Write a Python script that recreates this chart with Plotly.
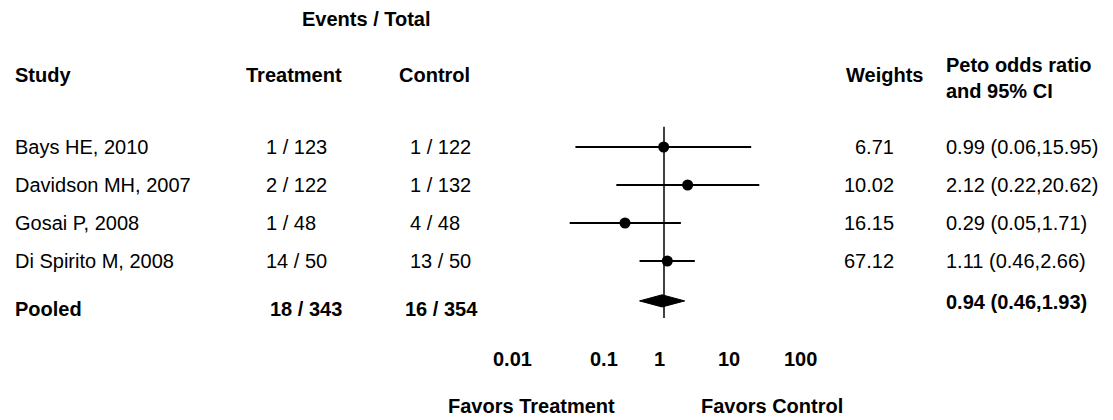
import math
import plotly.graph_objects as go

# ---- data -------------------------------------------------------------
studies = ["Bays HE, 2010", "Davidson MH, 2007", "Gosai P, 2008", "Di Spirito M, 2008"]
treat_events = [1, 2, 1, 14]
treat_total = [123, 122, 48, 50]
ctrl_events = [1, 1, 4, 13]
ctrl_total = [122, 132, 48, 50]
weights = [6.71, 10.02, 16.15, 67.12]
odds_ratio = [0.99, 2.12, 0.29, 1.11]
ci_low = [0.06, 0.22, 0.05, 0.46]
ci_high = [15.95, 20.62, 1.71, 2.66]

pooled_label = "Pooled"
pooled_treat = [18, 343]
pooled_ctrl = [16, 354]
pooled_or = 0.94
pooled_low = 0.46
pooled_high = 1.93

tick_values = [0.01, 0.1, 1, 10, 100]
tick_labels = ["0.01", "0.1", "1", "10", "100"]

# ---- layout constants -------------------------------------------------
W, H = 1113, 420
FONT = "Liberation Sans, Arial, sans-serif"
FS = 20
INK = "#000000"

NULL_PX = 664        # horizontal pixel of OR = 1
PX_PER_DECADE = 72.5
ROW0_PX = 147        # vertical pixel of the first study row
ROW_STEP = 38

x_range = [-NULL_PX / PX_PER_DECADE, (W - NULL_PX) / PX_PER_DECADE]
y_range = [(H - ROW0_PX) / ROW_STEP, -ROW0_PX / ROW_STEP]

pooled_row_text = 4.26
pooled_row_mark = 4.05
diamond_half = 0.16

tick_label_px = [512, 604, 659, 729, 800]
tick_label_y = 359


def px(x):
    return x / W


def py(y):
    return 1 - y / H


fig = go.Figure()

# confidence intervals
ci_x, ci_y = [], []
for i, (lo, hi) in enumerate(zip(ci_low, ci_high)):
    ci_x += [lo, hi, None]
    ci_y += [i, i, None]
fig.add_trace(go.Scatter(x=ci_x, y=ci_y, mode="lines",
                         line=dict(color=INK, width=2), hoverinfo="skip"))

# point estimates
fig.add_trace(go.Scatter(x=odds_ratio, y=list(range(len(studies))), mode="markers",
                         marker=dict(color=INK, size=11), hoverinfo="skip"))

# pooled diamond
r = pooled_row_mark
fig.add_trace(go.Scatter(
    x=[pooled_low, pooled_or, pooled_high, pooled_or, pooled_low],
    y=[r, r - diamond_half, r, r + diamond_half, r],
    mode="lines", fill="toself", fillcolor=INK,
    line=dict(color=INK, width=1), hoverinfo="skip"))

# line of no effect
fig.add_shape(type="line", xref="x", yref="y", x0=1, x1=1,
              y0=-0.53, y1=4.5, line=dict(color=INK, width=1.5))

ann = []


def text(s, x, y, yref="y", xanchor="left", bold=False, size=FS):
    ann.append(dict(
        text=f"<b>{s}</b>" if bold else s,
        x=px(x), xref="paper", y=y, yref=yref,
        xanchor=xanchor, yanchor="middle", showarrow=False,
        font=dict(family=FONT, size=size, color=INK), align="left"))


# headers
text("Events / Total", 367, py(19), yref="paper", xanchor="center", bold=True)
text("Study", 13, py(75), yref="paper", bold=True)
text("Treatment", 294, py(75), yref="paper", xanchor="center", bold=True)
text("Control", 434, py(75), yref="paper", xanchor="center", bold=True)
text("Weights", 884, py(75), yref="paper", xanchor="center", bold=True)
text("Peto odds ratio<br>and 95% CI", 944, py(78), yref="paper", bold=True)

# study rows
for i, name in enumerate(studies):
    text(name, 13, i)
    text(f"{treat_events[i]} / {treat_total[i]}", 264, i)
    text(f"{ctrl_events[i]} / {ctrl_total[i]}", 408, i)
    text(f"{weights[i]:.2f}", 896, i, xanchor="right")
    text(f"{odds_ratio[i]:.2f} ({ci_low[i]:.2f},{ci_high[i]:.2f})", 944, i)

# pooled row
text(pooled_label, 13, pooled_row_text, bold=True)
text(f"{pooled_treat[0]} / {pooled_treat[1]}", 268, pooled_row_text, bold=True)
text(f"{pooled_ctrl[0]} / {pooled_ctrl[1]}", 403, pooled_row_text, bold=True)
text(f"{pooled_or:.2f} ({pooled_low:.2f},{pooled_high:.2f})", 944, 4.08, bold=True)

# scale labels
for lab, xp in zip(tick_labels, tick_label_px):
    text(lab, xp, py(tick_label_y), yref="paper", xanchor="center", bold=True)

text("Favors Treatment", 531, py(406), yref="paper", xanchor="center", bold=True)
text("Favors Control", 772, py(406), yref="paper", xanchor="center", bold=True)

fig.update_layout(
    width=W, height=H,
    margin=dict(l=0, r=0, t=0, b=0),
    paper_bgcolor="white", plot_bgcolor="white",
    showlegend=False,
    xaxis=dict(type="log", range=x_range, visible=False, fixedrange=True),
    yaxis=dict(range=y_range, visible=False, fixedrange=True),
    annotations=ann,
)

fig.write_html("out.html", config={"displayModeBar": False})
